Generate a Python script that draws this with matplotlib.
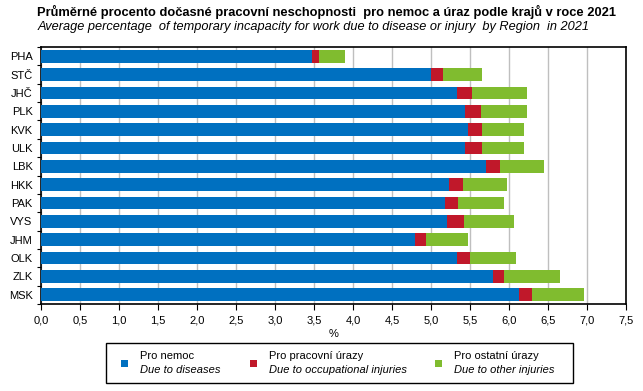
import matplotlib
matplotlib.use("Agg")
import matplotlib.pyplot as plt
from matplotlib.patches import Rectangle
from matplotlib.ticker import MultipleLocator, FuncFormatter

regions = ["PHA", "STČ", "JHČ", "PLK", "KVK", "ULK", "LBK",
           "HKK", "PAK", "VYS", "JHM", "OLK", "ZLK", "MSK"]
disease = [3.47, 5.00, 5.33, 5.43, 5.48, 5.44, 5.71,
           5.23, 5.18, 5.20, 4.79, 5.33, 5.79, 6.13]
occupational = [0.09, 0.15, 0.20, 0.21, 0.17, 0.21, 0.17,
                0.18, 0.17, 0.22, 0.14, 0.17, 0.15, 0.17]
other = [0.34, 0.51, 0.70, 0.59, 0.54, 0.54, 0.57,
         0.57, 0.58, 0.64, 0.54, 0.59, 0.72, 0.66]

series_cz = ["Pro nemoc", "Pro pracovní úrazy", "Pro ostatní úrazy"]
series_en = ["Due to diseases", "Due to occupational injuries", "Due to other injuries"]
colors = ["#0070C0", "#C0182A", "#80BC2F"]

plt.rcParams['font.family'] = ['Liberation Sans', 'DejaVu Sans']

fig = plt.figure(figsize=(6.43, 3.91), dpi=100)
W, H = 643, 391
ax = fig.add_axes([41 / W, 1 - 304 / H, (626 - 41) / W, (304 - 47) / H])

y = list(range(len(regions)))
left2 = [a + b for a, b in zip(disease, occupational)]
ax.barh(y, disease, height=0.69, color=colors[0], zorder=3)
ax.barh(y, occupational, left=disease, height=0.69, color=colors[1], zorder=3)
ax.barh(y, other, left=left2, height=0.69, color=colors[2], zorder=3)

ax.set_ylim(len(regions) - 0.5, -0.5)
ax.set_xlim(0, 7.5)
ax.set_yticks(y)
ax.set_yticklabels(regions, fontsize=8)
ax.set_yticks([i - 0.5 for i in range(len(regions) + 1)], minor=True)
ax.tick_params(axis='y', which='major', length=0, pad=6)
ax.tick_params(axis='y', which='minor', length=3, width=0.8, direction='out')
ax.xaxis.set_major_locator(MultipleLocator(0.5))
ax.xaxis.set_major_formatter(FuncFormatter(lambda v, p: f"{v:.1f}".replace(".", ",")))
ax.tick_params(axis='x', labelsize=8, length=4, width=0.8, direction='out', pad=4)
ax.grid(axis='x', color='#BFBFBF', linewidth=1, zorder=0)
for s in ax.spines.values():
    s.set_linewidth(1.2)
    s.set_color('black')
ax.set_xlabel("%", fontsize=8, labelpad=3)

fig.text(37 / W, 1 - 12 / H, "Průměrné procento dočasné pracovní neschopnosti  pro nemoc a úraz podle krajů v roce 2021",
         ha='left', va='center', fontsize=9.3, fontweight='bold')
fig.text(38 / W, 1 - 27 / H, "Average percentage  of temporary incapacity for work due to disease or injury  by Region  in 2021",
         ha='left', va='center', fontsize=9.2, style='italic')

# legend box
fig.patches.append(Rectangle((106 / W, 1 - 383 / H), (573 - 106) / W, 40 / H,
                             transform=fig.transFigure, facecolor='white',
                             edgecolor='black', linewidth=1))
marker_x = [121, 250, 435]
for mx, c, cz, en in zip(marker_x, colors, series_cz, series_en):
    fig.patches.append(Rectangle((mx / W, 1 - 367 / H), 7 / W, 7 / H,
                                 transform=fig.transFigure, facecolor=c, edgecolor='none'))
    fig.text((mx + 19) / W, 1 - 356 / H, cz, ha='left', va='center', fontsize=8)
    fig.text((mx + 19) / W, 1 - 370 / H, en, ha='left', va='center', fontsize=8, style='italic')

fig.savefig("out.png", dpi=100)
